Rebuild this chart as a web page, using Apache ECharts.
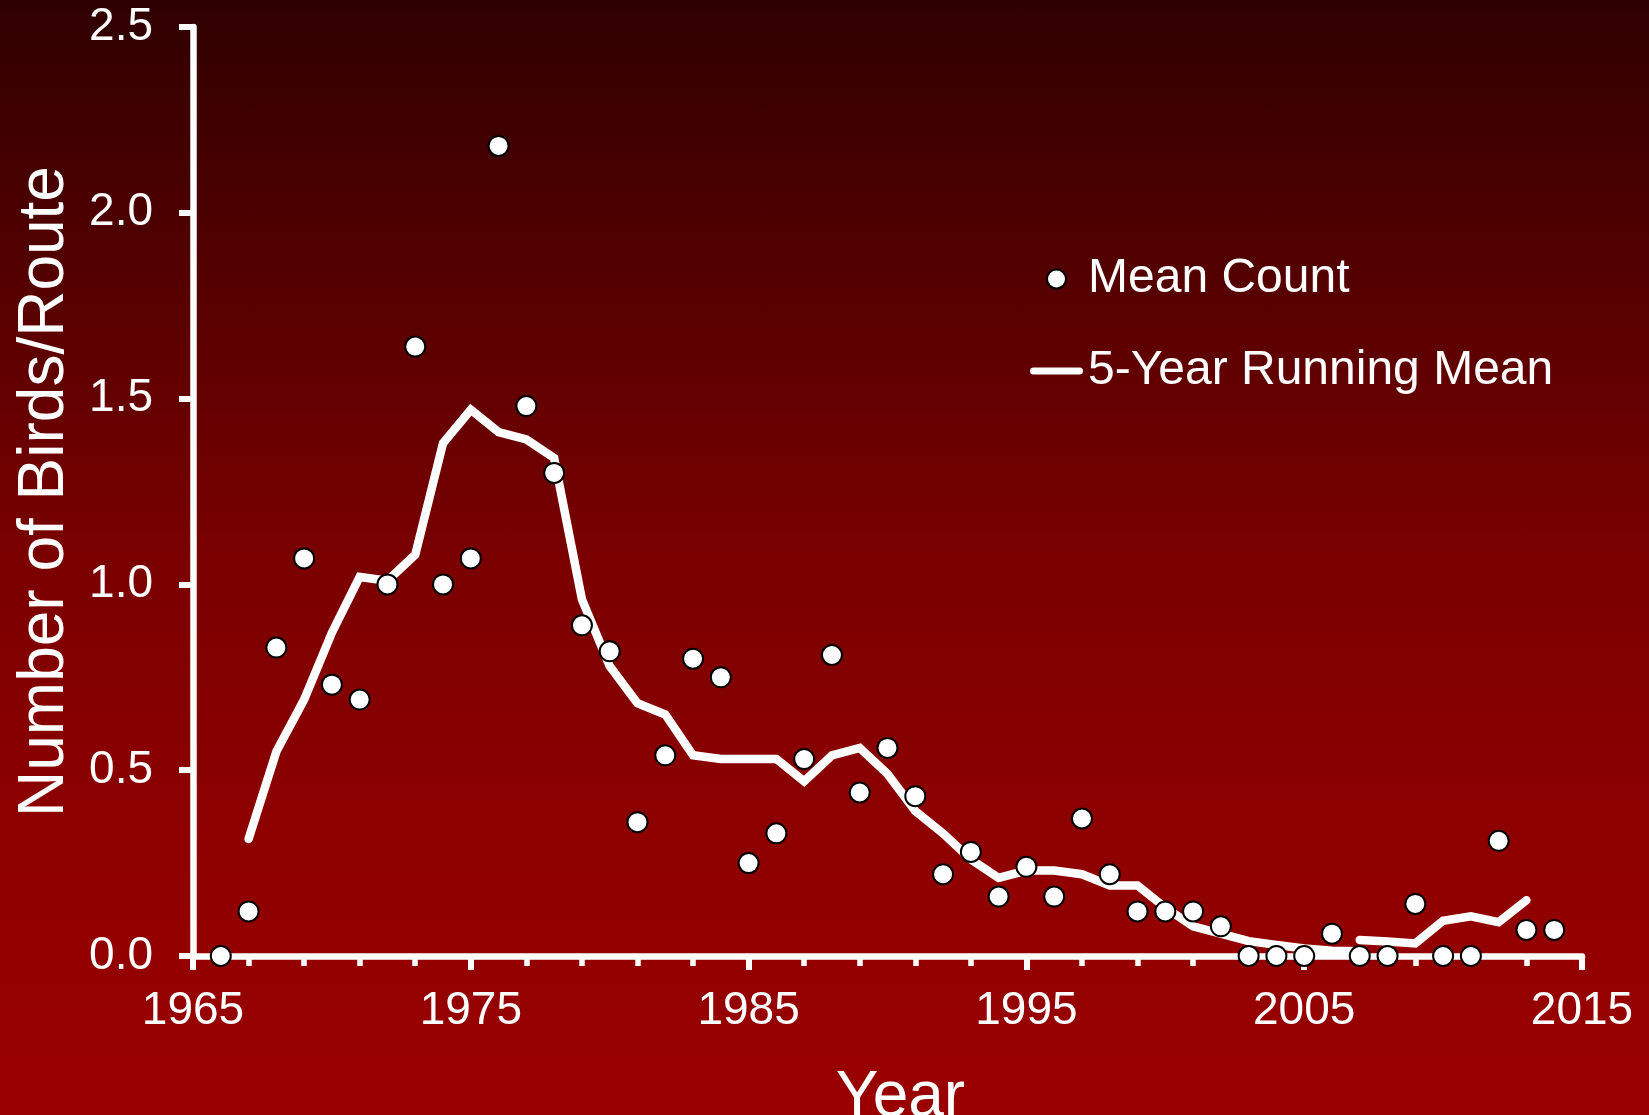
<!DOCTYPE html>
<html>
<head>
<meta charset="utf-8">
<title>Number of Birds/Route</title>
<script src="https://cdn.jsdelivr.net/npm/echarts@6/dist/echarts.min.js"></script>
<style>
  html, body { margin: 0; padding: 0; }
  #chart {
    width: 1649px;
    height: 1115px;
    background: linear-gradient(to bottom, #2f0000 0%, #7a0000 50%, #8e0000 75%, #9a0000 100%);
  }
</style>
</head>
<body>
<div id="chart"></div>
<script>
// yearly mean count
const years = [
  1966, 1967, 1968, 1969, 1970, 1971, 1972, 1973, 1974, 1975,
  1976, 1977, 1978, 1979, 1980, 1981, 1982, 1983, 1984, 1985,
  1986, 1987, 1988, 1989, 1990, 1991, 1992, 1993, 1994, 1995,
  1996, 1997, 1998, 1999, 2000, 2001, 2002, 2003, 2004, 2005,
  2006, 2007, 2008, 2009, 2010, 2011, 2012, 2013, 2014
];
const meanCount = [
  0, 0.12, 0.83, 1.07, 0.73, 0.69, 1.0, 1.64, 1.0, 1.07,
  2.18, 1.48, 1.3, 0.89, 0.82, 0.36, 0.54, 0.8, 0.75, 0.25,
  0.33, 0.53, 0.81, 0.44, 0.56, 0.43, 0.22, 0.28, 0.16, 0.24,
  0.16, 0.37, 0.22, 0.12, 0.12, 0.12, 0.08, 0, 0, 0,
  0.06, 0, 0, 0.14, 0, 0, 0.31, 0.07, 0.07
];

// 5-year running mean, drawn in two pieces (break at 2007)
const runYearsA = [
  1967, 1968, 1969, 1970, 1971, 1972, 1973, 1974, 1975, 1976,
  1977, 1978, 1979, 1980, 1981, 1982, 1983, 1984, 1985, 1986,
  1987, 1988, 1989, 1990, 1991, 1992, 1993, 1994, 1995, 1996,
  1997, 1998, 1999, 2000, 2001, 2002, 2003, 2004, 2005, 2006, 2007
];
const runMeanA = [
  0.315, 0.55, 0.69, 0.87, 1.02, 1.01, 1.08, 1.38, 1.47, 1.41,
  1.39, 1.34, 0.96, 0.78, 0.68, 0.65, 0.54, 0.53, 0.53, 0.53,
  0.47, 0.54, 0.56, 0.49, 0.39, 0.33, 0.26, 0.21, 0.23, 0.23,
  0.22, 0.19, 0.19, 0.13, 0.08, 0.06, 0.04, 0.03, 0.02, 0.014, 0.013
];
const runYearsB = [2007, 2008, 2009, 2010, 2011, 2012, 2013];
const runMeanB = [0.043, 0.039, 0.034, 0.095, 0.107, 0.091, 0.15];

const yearTicks = [1965, 2015];
const countTicks = [0, 2.5];

const FONT = '"Liberation Sans", Arial, sans-serif';

function pairs(xs, ys) {
  return xs.map((x, i) => [x, ys[i]]);
}

const chart = echarts.init(document.getElementById('chart'), null, { renderer: 'canvas' });

const lineStyle = {
  color: '#ffffff',
  width: 8.5,
  cap: 'round',
  join: 'miter'
};

chart.setOption({
  animation: false,
  backgroundColor: 'transparent',
  grid: {
    left: 193,
    right: 67,
    top: 27,
    bottom: 159,
    containLabel: false,
    outerBoundsMode: 'none'
  },
  legend: {
    orient: 'vertical',
    left: 1025,
    top: 250,
    itemWidth: 53,
    itemHeight: 19,
    itemGap: 44,
    selectedMode: false,
    textStyle: {
      color: '#ffffff',
      fontFamily: FONT,
      fontSize: 48,
      lineHeight: 48
    },
    data: [
      {
        name: 'Mean Count',
        icon: 'circle',
        itemStyle: { color: '#ffffff', borderColor: '#000000', borderWidth: 2, opacity: 1 }
      },
      {
        name: '5-Year Running Mean',
        icon: 'path://M3.5 0H49.5A3.5 3.5 0 0 1 49.5 7H3.5A3.5 3.5 0 0 1 3.5 0Z',
        itemStyle: { color: '#ffffff', borderWidth: 0 }
      }
    ]
  },
  xAxis: {
    type: 'value',
    min: yearTicks[0],
    max: yearTicks[1],
    interval: 10,
    name: 'Year',
    nameLocation: 'middle',
    nameGap: 110,
    nameTextStyle: {
      color: '#ffffff',
      fontFamily: FONT,
      fontSize: 64,
      padding: [0, 0, 0, 26]
    },
    axisLine: { show: true, lineStyle: { color: '#ffffff', width: 6.5 } },
    axisTick: { show: true, length: 14, lineStyle: { color: '#ffffff', width: 6 } },
    minorTick: { show: true, splitNumber: 5, length: 10, lineStyle: { color: '#ffffff', width: 5.5 } },
    axisLabel: {
      color: '#ffffff',
      fontFamily: FONT,
      fontSize: 46,
      margin: 32,
      formatter: v => String(v)
    },
    splitLine: { show: false },
    minorSplitLine: { show: false }
  },
  yAxis: {
    type: 'value',
    min: countTicks[0],
    max: countTicks[1],
    interval: 0.5,
    name: 'Number of Birds/Route',
    nameLocation: 'middle',
    nameGap: 116,
    nameTextStyle: {
      color: '#ffffff',
      fontFamily: FONT,
      fontSize: 64
    },
    axisLine: { show: true, lineStyle: { color: '#ffffff', width: 6.5 } },
    axisTick: { show: true, length: 14, lineStyle: { color: '#ffffff', width: 6 } },
    axisLabel: {
      color: '#ffffff',
      fontFamily: FONT,
      fontSize: 46,
      margin: 40,
      formatter: v => v.toFixed(1)
    },
    splitLine: { show: false }
  },
  series: [
    {
      name: '5-Year Running Mean',
      type: 'line',
      data: pairs(runYearsA, runMeanA),
      symbol: 'none',
      showSymbol: false,
      lineStyle: lineStyle,
      itemStyle: { color: '#ffffff' },
      z: 3
    },
    {
      name: '5-Year Running Mean',
      type: 'line',
      data: pairs(runYearsB, runMeanB),
      symbol: 'none',
      showSymbol: false,
      lineStyle: lineStyle,
      itemStyle: { color: '#ffffff' },
      z: 3
    },
    {
      name: 'Mean Count',
      type: 'scatter',
      data: pairs(years, meanCount),
      symbol: 'circle',
      symbolSize: 20,
      clip: false,
      itemStyle: { color: '#ffffff', borderColor: '#000000', borderWidth: 2, opacity: 1 },
      z: 4
    }
  ]
});
</script>
</body>
</html>
